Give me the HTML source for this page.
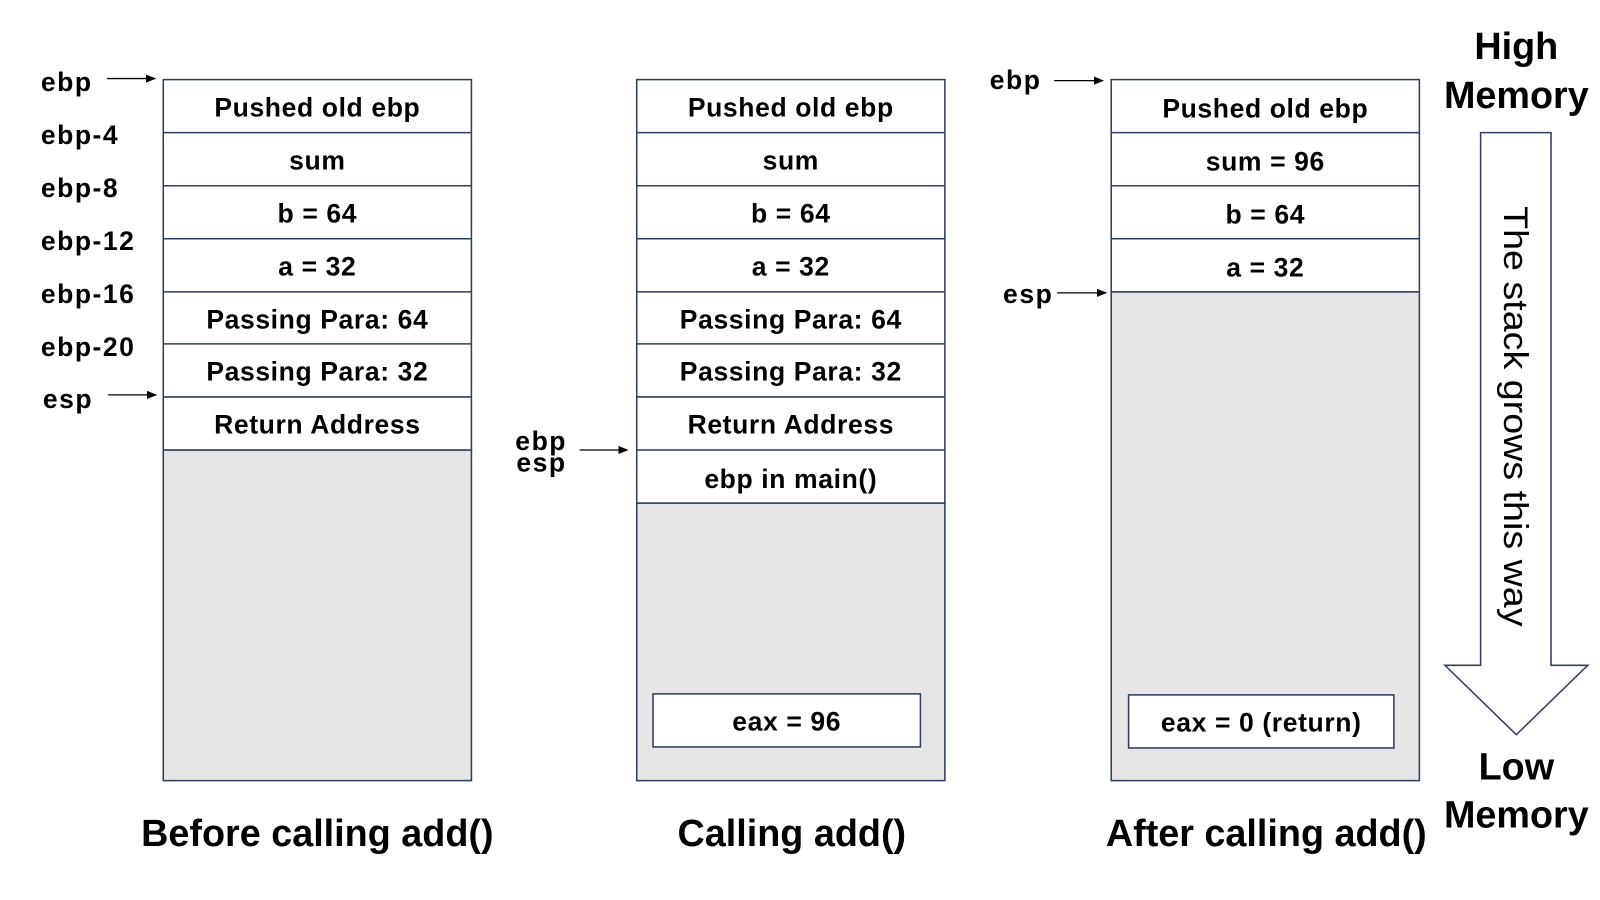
<!DOCTYPE html>
<html><head><meta charset="utf-8"><style>
html,body{margin:0;padding:0;background:#fff;}
svg{display:block;}
svg text{font-family:"Liberation Sans","Noto Sans CJK SC",sans-serif;fill:#000;}
.c{font-size:26px;font-weight:bold;text-anchor:middle;letter-spacing:0.6px;}
.l{font-size:26px;font-weight:bold;letter-spacing:1.5px;}
.cap{font-size:37px;font-weight:bold;text-anchor:middle;}
.m{font-size:37px;font-weight:bold;text-anchor:middle;}
</style></head><body>
<svg width="1600" height="900" viewBox="0 0 1568 882" xmlns="http://www.w3.org/2000/svg">
<defs><marker id="a" markerWidth="10" markerHeight="8" refX="9" refY="4" orient="auto" markerUnits="userSpaceOnUse"><path d="M0,0 L10,4 L0,8 z" fill="#000"/></marker></defs>
<g stroke="#2f3e5c" stroke-width="1.5">
<rect x="160" y="441" width="302" height="324" fill="#e6e6e6"/>
<rect x="160" y="78" width="302" height="363" fill="#fff"/>
<line x1="160" y1="130" x2="462" y2="130"/><line x1="160" y1="182" x2="462" y2="182"/><line x1="160" y1="234" x2="462" y2="234"/><line x1="160" y1="286" x2="462" y2="286"/><line x1="160" y1="337" x2="462" y2="337"/><line x1="160" y1="389" x2="462" y2="389"/>
<rect x="624" y="493" width="302" height="272" fill="#e6e6e6"/>
<rect x="624" y="78" width="302" height="415" fill="#fff"/>
<line x1="624" y1="130" x2="926" y2="130"/><line x1="624" y1="182" x2="926" y2="182"/><line x1="624" y1="234" x2="926" y2="234"/><line x1="624" y1="286" x2="926" y2="286"/><line x1="624" y1="337" x2="926" y2="337"/><line x1="624" y1="389" x2="926" y2="389"/><line x1="624" y1="441" x2="926" y2="441"/>
<rect x="640" y="680" width="262" height="52" fill="#fff"/>
<rect x="1089" y="286" width="302" height="479" fill="#e6e6e6"/>
<rect x="1089" y="78" width="302" height="208" fill="#fff"/>
<line x1="1089" y1="130" x2="1391" y2="130"/><line x1="1089" y1="182" x2="1391" y2="182"/><line x1="1089" y1="234" x2="1391" y2="234"/>
<rect x="1106" y="681" width="260" height="52" fill="#fff"/>
<path d="M1451,130 L1520,130 L1520,652 L1556,652 L1486,720 L1416,652 L1451,652 Z" fill="#fff"/>
</g>
<g stroke="#000" stroke-width="1.3">
<line x1="105" y1="77" x2="152" y2="77" marker-end="url(#a)"/>
<line x1="106" y1="387" x2="153" y2="387" marker-end="url(#a)"/>
<line x1="568" y1="441" x2="615" y2="441" marker-end="url(#a)"/>
<line x1="1033" y1="79" x2="1081" y2="79" marker-end="url(#a)"/>
<line x1="1036" y1="287" x2="1084" y2="287" marker-end="url(#a)"/>
</g>
<g class="l">
<text x="40" y="89">ebp</text><text x="40" y="141">ebp-4</text><text x="40" y="193">ebp-8</text><text x="40" y="245">ebp-12</text><text x="40" y="297">ebp-16</text><text x="40" y="349">ebp-20</text><text x="42" y="400">esp</text>
<text x="505" y="441">ebp</text><text x="506" y="462">esp</text>
<text x="970" y="87">ebp</text><text x="983" y="297">esp</text>
</g>
<g class="c">
<text x="311" y="114">Pushed old ebp</text><text x="311" y="166">sum</text><text x="311" y="218">b = 64</text><text x="311" y="270">a = 32</text><text x="311" y="322">Passing Para: 64</text><text x="311" y="373">Passing Para: 32</text><text x="311" y="425">Return Address</text>
<text x="775" y="114">Pushed old ebp</text><text x="775" y="166">sum</text><text x="775" y="218">b = 64</text><text x="775" y="270">a = 32</text><text x="775" y="322">Passing Para: 64</text><text x="775" y="373">Passing Para: 32</text><text x="775" y="425">Return Address</text><text x="775" y="478">ebp in main()</text>
<text x="771" y="716">eax = 96</text>
<text x="1240" y="115">Pushed old ebp</text><text x="1240" y="167">sum = 96</text><text x="1240" y="219">b = 64</text><text x="1240" y="271">a = 32</text>
<text x="1236" y="717">eax = 0 (return)</text>
</g>
<g class="cap">
<text x="311" y="829">Before calling add()</text><text x="776" y="829">Calling add()</text><text x="1241" y="829">After calling add()</text>
</g>
<g class="m">
<text x="1486" y="58">High</text><text x="1486" y="106">Memory</text>
<text x="1486" y="764">Low</text><text x="1486" y="811">Memory</text>
</g>
<text x="0" y="0" transform="translate(1474,408) rotate(90)" font-size="34" text-anchor="middle" textLength="412" lengthAdjust="spacingAndGlyphs">The stack grows this way</text>
</svg>
</body></html>
